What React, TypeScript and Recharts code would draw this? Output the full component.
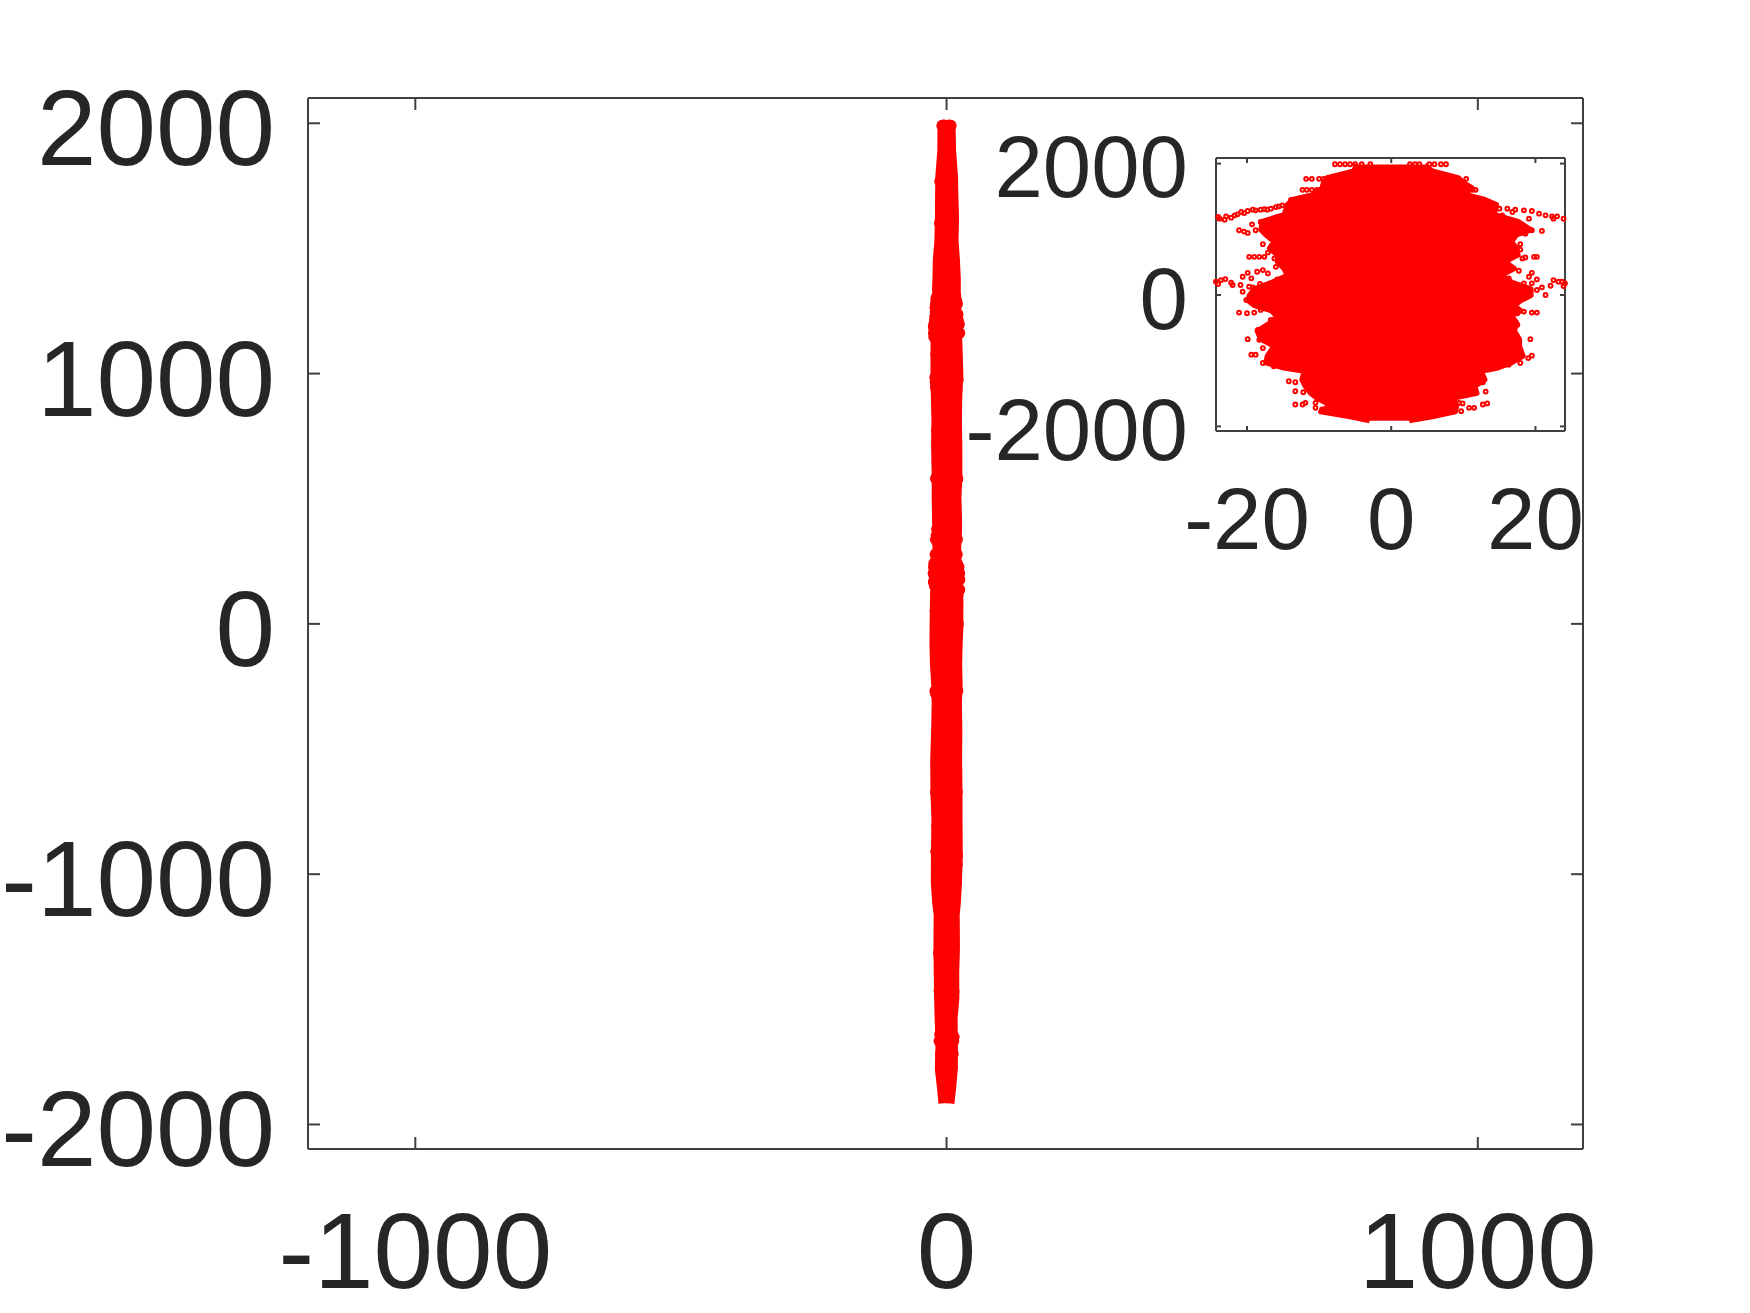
import React from "react";
import { ComposedChart, Area, Scatter, XAxis, YAxis } from "recharts";

const W = 1750;
const H = 1313;
const RED = "#ff0000";
const AXIS = "#404040";
const TEXT = "#262626";
const FONT = "'Liberation Sans', Arial, sans-serif";

const mainXTicks = [-1000, 0, 1000];
const mainYTicks = [-2000, -1000, 0, 1000, 2000];
const insetXTicks = [-20, 0, 20];
const insetYTicks = [-2000, 0, 2000];

// dense central body of the cloud: y level, left and right limit
const bodyY = [-1915, -1855, -1778, -1675, -1573, -1496, -1393, -1291, -1162, -1111, -1034, -931, -778, -675, -547, -418, -316, -239, -162, -85, -8, 94, 197, 299, 402, 504, 607, 710, 812, 915, 992, 1120, 1223, 1274, 1376, 1453, 1530, 1633, 1710, 1787, 1890, 1985];
const bodyLeft = [-3, -5.7, -9.8, -8.5, -10.3, -11.2, -11.9, -12.4, -12.1, -14.9, -17.4, -17.2, -16.3, -18.1, -18.6, -16.7, -15.8, -16.7, -19, -19.9, -19.7, -19, -16.5, -14.4, -14.9, -15.8, -15.8, -16.9, -16.3, -17.4, -18.1, -17.9, -14.9, -14.7, -14.4, -13.7, -10.7, -9.6, -9.4, -8.9, -5.2, -4.8];
const bodyRight = [2.5, 5.7, 8.9, 9.1, 8.6, 11.9, 11.6, 13, 12.5, 14.8, 16.7, 18.3, 17.8, 17.8, 17.1, 17.4, 16.7, 18, 17.1, 18, 19.4, 19.4, 16.7, 15.3, 17.1, 15.8, 17.6, 17.4, 16.7, 17.4, 19.4, 17.6, 14.4, 14.4, 14.6, 13, 10.3, 11.2, 10, 9.3, 5.7, 4.7];

// individually visible points round the body
const outerX = [
  -7.8, -7.1, -6.4, -5.7, -5, -4.1, -2.9, 2.6, 3.3, 3.9, 5.3, 6, 6.9, 7.6,
  -11.8, -11, -10, -9.4, 9.2, 10.4, -12.3, -11.7, -11, -10.3, 10.4, 11.3, 11.7, -13.9, -13, -11, 9.9,
  -24, -23.8, -22.9, -21.7, -20.8, -19.9, -19.2, -18.1, -17.2, -16, -15.1, -23.1, -22.2, -21.3, -20.4, -18.8, -17.6, -16.7, -15.6,
  15, 16.1, 17.2, 18.4, 19.5, 20.5, 21.4, 22.3, 23, 23.9, 22.5, 19.1, 16.8, 15.4,
  -21.1, -20.4, -19.9, -19.3, -18.8, -18.1, -16.7, -17.8, -17.1, -19.7, -19, -18.3, -17.6, -16.2, -16,
  20.9, 19.5, 18.6, 17.9, 17.9, 19.8, 20.2, 18.6, 18.2, 16.8, 15.2, 16.1, 17.7, 19.5, 19.1, 20.2, 14.9,
  -24.3, -24, -23.6, -23, -22.2, -22, -20.9, -20.6, -19.9, -19.4, -18.6, -17.8, -17.1, -18.2, -20.6, -19.7, -19.2, -20.1, -19.7, -18.8, -15.8,
  22.5, 22.1, 23.2, 23.7, 24.1, 23.9, 21.4, 20.9, 20.2, 19.5, 18.4, 17.7, 16.3, 16.8,
  -21.1, -20, -19, -18.1, -17.1, -16.2, -16.7, 20.2, 19.5, 18.4, 17.5, 16.3, 15.4,
  -18.5, -18.1, -17.1, -19.9, -18.3, -17.4, 17.5, 19.3, 17.7, 16.8,
  -19.4, -18.8, -17.8, -17.8, -16.9, -16.3, -15.3, 19.5, 19, 17.9, 16.8, 16.3, 15.9,
  -14.2, -13.3, -13.3, -12.2, -13.3, -12.3, -11.9, -10.5, -10.5, -9.6, -8.9, -7.5, -6.6,
  12.7, 13.1, 11.7, 8.3, 9.4, 9.9, 9.7, 10.8, 11.5, 12.7, 13.3, 7.6, 8.5,
  -3.9, 3.9, 4.9,
];
const outerY = [
  1990, 1990, 1990, 1990, 1990, 1990, 1990, 1990, 1990, 1990, 1990, 1990, 1990, 1990,
  1768, 1768, 1768, 1768, 1768, 1768, 1601, 1601, 1601, 1601, 1601, 1601, 1601, 1449, 1449, 1490, 1490,
  1187, 1162, 1197, 1212, 1263, 1278, 1298, 1298, 1298, 1338, 1364, 1146, 1177, 1227, 1247, 1288, 1308, 1313, 1348,
  1313, 1313, 1298, 1288, 1278, 1237, 1212, 1197, 1197, 1162, 1162, 1162, 1263, 1212,
  985, 965, 944, 1076, 985, 1111, 1111, 773, 646, 581, 581, 581, 581, 556, 429,
  975, 985, 934, 773, 692, 581, 581, 571, 556, 631, 404, 429, 369, 338, 278, 237, 318,
  202, 167, 227, 242, 187, 152, 152, 278, 338, 253, 354, 379, 328, 167, 51, 126, 116, -76, -76, -86, 237,
  227, 141, 202, 202, 177, 136, 0, 116, 76, 177, 177, 126, 253, -76,
  -268, -278, -268, -227, -202, -278, -379, -268, -268, -253, -278, -177, -369,
  -530, -540, -480, -672, -682, -657, -454, -672, -682, -606,
  -909, -909, -808, -1035, -1010, -1086, -934, -924, -960, -1035, -934, -1060, -833,
  -1313, -1328, -1465, -1480, -1667, -1667, -1641, -1641, -1717, -1742, -1742, -1631, -1732,
  -1328, -1470, -1465, -1631, -1641, -1651, -1768, -1717, -1717, -1667, -1651, -1742, -1742,
  -1884, -1818, -1803,
];

const bodyRows = bodyY.map((y, i) => ({ y, band: [bodyLeft[i], bodyRight[i]] }));
const outerRows = outerX.map((x, i) => ({ x, y: outerY[i] }));

type PanelProps = {
  left: number; right: number; top: number; bottom: number;
  xDomain: number[]; yDomain: number[]; xTicks: number[]; yTicks: number[];
  fontSize: number; tickLen: number; xMargin: number; yMargin: number;
  yDy: number; bodyStroke: number; dot: (p: any) => React.ReactElement;
};

const noMark = () => <g />;

function Panel(p: PanelProps) {
  const line = { stroke: AXIS, strokeWidth: 2 };
  const label = { fontSize: p.fontSize, fill: TEXT, fontFamily: FONT };
  return (
    <div style={{ position: "absolute", left: 0, top: 0, width: W, height: H }}>
      <ComposedChart width={W} height={H} layout="vertical" data={bodyRows} margin={{ left: 0, right: 0, top: 0, bottom: 0 }}>
        <XAxis xAxisId="b" type="number" dataKey="x" orientation="bottom" height={H - p.bottom} domain={p.xDomain} ticks={p.xTicks}
          interval={0} tickSize={-p.tickLen} tickMargin={p.xMargin} axisLine={line} tickLine={line} tick={label} />
        <XAxis xAxisId="t" type="number" dataKey="x" orientation="top" height={p.top} domain={p.xDomain} ticks={p.xTicks}
          interval={0} tickSize={-p.tickLen} axisLine={line} tickLine={line} tick={noMark} />
        <YAxis yAxisId="l" type="number" dataKey="y" orientation="left" reversed width={p.left} domain={p.yDomain} ticks={p.yTicks}
          interval={0} tickSize={-p.tickLen} tickMargin={p.yMargin} axisLine={line} tickLine={line}
          tick={{ ...label, dy: p.yDy }} />
        <YAxis yAxisId="r" type="number" dataKey="y" orientation="right" reversed width={W - p.right} domain={p.yDomain} ticks={p.yTicks}
          interval={0} tickSize={-p.tickLen} axisLine={line} tickLine={line} tick={noMark} />
        <Area xAxisId="b" yAxisId="l" dataKey="band" type="linear" stroke={RED} strokeWidth={p.bodyStroke} strokeLinejoin="round"
          fill={RED} fillOpacity={1} dot={false} activeDot={false} isAnimationActive={false} />
        <Scatter xAxisId="b" yAxisId="l" data={outerRows} shape={p.dot} isAnimationActive={false} />
        <Scatter xAxisId="t" yAxisId="r" data={outerRows} shape={noMark} isAnimationActive={false} />
      </ComposedChart>
    </div>
  );
}

const mainDot = (p: any) => <circle cx={p.cx} cy={p.cy} r={6} fill={RED} />;
const insetDot = (p: any) => <circle cx={p.cx} cy={p.cy} r={1.9} fill="none" stroke={RED} strokeWidth={2} />;

export default function App() {
  return (
    <div style={{ position: "absolute", left: 0, top: 0, width: W, height: H, background: "#fff" }}>
      <Panel left={308} right={1583} top={98} bottom={1149} xDomain={[-1202, 1198]} yDomain={[-2098, 2101]}
        xTicks={mainXTicks} yTicks={mainYTicks} fontSize={107} tickLen={12} xMargin={75} yMargin={45} yDy={4}
        bodyStroke={13} dot={mainDot} />
      <Panel left={1216} right={1565} top={158} bottom={431} xDomain={[-24, 24]} yDomain={[-2070, 2085]}
        xTicks={insetXTicks} yTicks={insetYTicks} fontSize={87} tickLen={5} xMargin={61} yMargin={33} yDy={3}
        bodyStroke={5} dot={insetDot} />
    </div>
  );
}
